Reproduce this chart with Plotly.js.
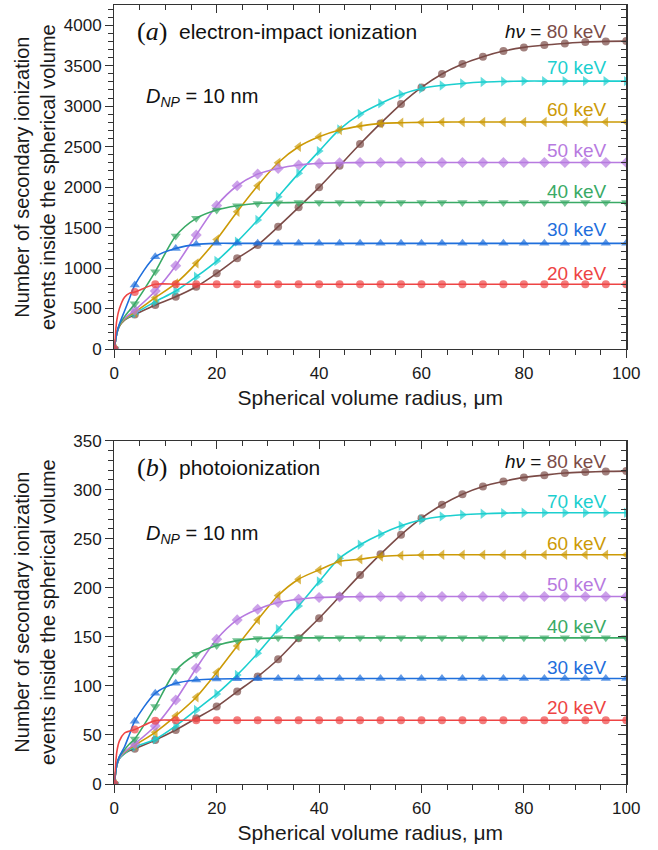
<!DOCTYPE html>
<html>
<head>
<meta charset="utf-8">
<script src="https://cdn.plot.ly/plotly-3.0.1.min.js"></script>
<style>html,body{margin:0;padding:0;background:#fff;}#chart{width:658px;height:850px;}</style>
</head>
<body>
<div id="chart"></div>
<script>
// Radius values (micrometres) at which the curves are sampled
const radius = [0, 0.5, 1, 2, 3, 4, 8, 12, 16, 20, 24, 28, 32, 36, 40, 44, 48, 52, 56, 60, 64, 68, 72, 76, 80, 84, 88, 92, 96, 100];

const energies = ['20 keV', '30 keV', '40 keV', '50 keV', '60 keV', '70 keV', '80 keV'];

// (a) electron-impact ionization
const elec20 = [0, 360, 500, 640, 690, 705, 800, 800, 800, 800, 800, 800, 800, 800, 800, 800, 800, 800, 800, 800, 800, 800, 800, 800, 800, 800, 800, 800, 800, 800];
const elec30 = [0, 200, 310, 470, 630, 790, 1140, 1243, 1293, 1305, 1305, 1305, 1305, 1305, 1305, 1305, 1305, 1305, 1305, 1305, 1305, 1305, 1305, 1305, 1305, 1305, 1305, 1305, 1305, 1305];
const elec40 = [0, 200, 300, 400, 480, 560, 955, 1396, 1614, 1717, 1770, 1799, 1807, 1810, 1810, 1810, 1810, 1810, 1810, 1810, 1810, 1810, 1810, 1810, 1810, 1810, 1810, 1810, 1810, 1810];
const elec50 = [0, 200, 300, 380, 430, 480, 716, 1029, 1408, 1774, 2017, 2161, 2231, 2273, 2293, 2301, 2303, 2305, 2305, 2305, 2305, 2305, 2305, 2305, 2305, 2305, 2305, 2305, 2305, 2305];
const elec60 = [0, 200, 290, 370, 415, 455, 634, 811, 1058, 1354, 1696, 2017, 2301, 2499, 2622, 2705, 2754, 2787, 2795, 2800, 2803, 2804, 2804, 2804, 2804, 2804, 2804, 2804, 2804, 2804];
const elec70 = [0, 200, 290, 365, 405, 440, 585, 716, 893, 1087, 1326, 1593, 1881, 2170, 2445, 2713, 2902, 3034, 3145, 3219, 3256, 3281, 3298, 3305, 3310, 3310, 3310, 3310, 3310, 3310];
const elec80 = [0, 190, 280, 355, 395, 425, 543, 646, 770, 935, 1120, 1285, 1511, 1750, 1997, 2264, 2532, 2787, 3026, 3232, 3397, 3520, 3611, 3681, 3726, 3755, 3775, 3792, 3800, 3804];

// (b) photoionization
const photo20 = [0, 33, 44, 52, 54, 55.5, 64.6, 65, 65, 65, 65, 65, 65, 65, 65, 65, 65, 65, 65, 65, 65, 65, 65, 65, 65, 65, 65, 65, 65, 65];
const photo30 = [0, 20, 28, 38, 51, 64, 92.5, 102.7, 106.1, 107.1, 107.3, 107.4, 107.5, 107.5, 107.5, 107.5, 107.5, 107.5, 107.5, 107.5, 107.5, 107.5, 107.5, 107.5, 107.5, 107.5, 107.5, 107.5, 107.5, 107.5];
const photo40 = [0, 20, 28, 35, 41, 46, 78.9, 115.6, 132.3, 141.1, 146.2, 148.3, 149, 149, 149, 149, 149, 149, 149, 149, 149, 149, 149, 149, 149, 149, 149, 149, 149, 149];
const photo50 = [0, 20, 27, 33, 37, 41, 59.2, 85.7, 118, 147.6, 167.3, 178.2, 185, 188.4, 190.1, 190.8, 191, 191.1, 191.1, 191.1, 191.1, 191.1, 191.1, 191.1, 191.1, 191.1, 191.1, 191.1, 191.1, 191.1];
const photo60 = [0, 20, 27, 32, 36, 39.5, 52.7, 69.4, 88.4, 113.6, 140.8, 167.3, 192.2, 208.8, 218.3, 226.8, 229.2, 232, 233, 233.5, 233.7, 233.7, 233.7, 233.7, 233.7, 233.7, 233.7, 233.7, 233.7, 233.7];
const photo70 = [0, 19, 26, 31, 35, 38, 45.6, 59.2, 75.5, 91.8, 111.2, 133.3, 157.8, 181.6, 206.4, 230.2, 243.9, 254.7, 263.2, 269.4, 272.8, 274.5, 275.5, 276.2, 276.5, 276.5, 276.5, 276.5, 276.5, 276.5];
const photo80 = [0, 19, 26, 31, 34, 36, 44.9, 55.1, 67, 78.9, 94.2, 109.5, 127.2, 148.6, 169, 191.1, 213.2, 234.3, 254, 271, 284.7, 295.5, 303.4, 308.5, 312.6, 314.9, 317, 318, 318.7, 319];

const elecSeries = [elec20, elec30, elec40, elec50, elec60, elec70, elec80];
const photoSeries = [photo20, photo30, photo40, photo50, photo60, photo70, photo80];

const colors = ['#ee4444', '#1f6fdc', '#3aaa66', '#b77ae0', '#cc9a06', '#1ccfcf', '#7b4b47'];
const symbols = ['circle', 'triangle-up', 'triangle-down', 'diamond', 'triangle-left', 'triangle-right', 'circle'];
const symbolSize = [8, 9, 9, 8.5, 9, 9, 8];

const traces = [];
function addSeries(series, xa, ya) {
  for (let i = series.length - 1; i >= 0; i--) {
    // marker only at the sampled radii (every 4 um)
    const sizes = radius.map(r => (r % 4 === 0 ? symbolSize[i] : 0));
    traces.push({
      x: radius, y: series[i], xaxis: xa, yaxis: ya,
      type: 'scatter', mode: 'lines+markers', name: energies[i], showlegend: false,
      line: {color: colors[i], width: 1.6, shape: 'spline', smoothing: 0.8},
      marker: {color: colors[i], symbol: symbols[i], size: sizes, line: {width: 0}},
      cliponaxis: true, hoverinfo: 'x+y+name'
    });
  }
}
addSeries(elecSeries, 'x', 'y');
addSeries(photoSeries, 'x2', 'y2');
// empty helpers so the mirrored tick axes are drawn
traces.push({x: [], y: [], xaxis: 'x3', yaxis: 'y', showlegend: false, hoverinfo: 'skip'});
traces.push({x: [], y: [], xaxis: 'x', yaxis: 'y3', showlegend: false, hoverinfo: 'skip'});
traces.push({x: [], y: [], xaxis: 'x4', yaxis: 'y2', showlegend: false, hoverinfo: 'skip'});
traces.push({x: [], y: [], xaxis: 'x2', yaxis: 'y4', showlegend: false, hoverinfo: 'skip'});

const W = 658, H = 850;
const xL = 114.3 / W, xR = 626.3 / W;
const domA = [1 - 349 / H, 1 - 5 / H];
const domB = [1 - 784 / H, 1 - 440.7 / H];

const FONT = 'Liberation Sans, Arial, Helvetica, sans-serif';
const axisCol = '#333';
const tickFont = {family: FONT, size: 17, color: '#1a1a1a'};
const xTitle = {text: 'Spherical volume radius, \u03bcm', font: {family: FONT, size: 21, color: '#1a1a1a'}, standoff: 8};

function xMain(anchor) {
  return {
    domain: [xL, xR], anchor: anchor, range: [0, 100], tick0: 0, dtick: 20,
    ticks: 'outside', ticklen: 8, tickwidth: 1, tickcolor: axisCol,
    showline: true, linecolor: axisCol, linewidth: 1.2, mirror: true,
    showgrid: false, zeroline: false, tickfont: tickFont, title: xTitle,
    minor: {dtick: 5, ticks: 'outside', ticklen: 5, tickwidth: 1, tickcolor: axisCol, showgrid: false},
    fixedrange: true
  };
}
function xTop(over, anchor) {
  return {
    overlaying: over, anchor: anchor, side: 'top', range: [0, 100], tick0: 0, dtick: 20,
    ticks: 'inside', ticklen: 8, tickwidth: 1, tickcolor: axisCol, showticklabels: false,
    showline: false, showgrid: false, zeroline: false,
    minor: {dtick: 5, ticks: 'inside', ticklen: 5, tickwidth: 1, tickcolor: axisCol, showgrid: false}
  };
}
function yMain(dom, anchor, top, major, minor) {
  return {
    domain: dom, anchor: anchor, range: [0, top], tick0: 0, dtick: major,
    ticks: 'outside', ticklen: 8, tickwidth: 1, tickcolor: axisCol,
    showline: true, linecolor: axisCol, linewidth: 1.2, mirror: true,
    showgrid: false, zeroline: false, tickfont: tickFont,
    minor: {dtick: minor, ticks: 'outside', ticklen: 5, tickwidth: 1, tickcolor: axisCol, showgrid: false},
    fixedrange: true
  };
}
function yRight(over, anchor, top, major, minor) {
  return {
    overlaying: over, anchor: anchor, side: 'right', range: [0, top], tick0: 0, dtick: major,
    ticks: 'inside', ticklen: 8, tickwidth: 1, tickcolor: axisCol, showticklabels: false,
    showline: false, showgrid: false, zeroline: false,
    minor: {dtick: minor, ticks: 'inside', ticklen: 5, tickwidth: 1, tickcolor: axisCol, showgrid: false}
  };
}

const annFont = {family: FONT, size: 19};
const labelX = 608 / W;
const aLabelY = [273, 230, 191, 150, 110, 68, 31];
const bLabelY = [707.3, 667.3, 626.7, 584, 543.3, 501.7, 461.7];

const annotations = [];
function addLabels(ys) {
  for (let i = 0; i < energies.length; i++) {
    let txt = energies[i];
    if (i === energies.length - 1) {
      txt = '<span style="color:#111"><i>h\u03bd</i> = </span>' + energies[i];
    }
    annotations.push({
      xref: 'paper', yref: 'paper', x: labelX, y: 1 - ys[i] / H,
      xanchor: 'right', yanchor: 'middle', showarrow: false,
      text: txt, font: Object.assign({}, annFont, {color: colors[i]})
    });
  }
}
addLabels(aLabelY);
addLabels(bLabelY);

function addPanelTitle(letter, name, cy) {
  annotations.push({
    xref: 'paper', yref: 'paper', x: 135 / W, y: 1 - cy / H, xanchor: 'left', yanchor: 'middle',
    showarrow: false, text: '(<i>' + letter + '</i>)',
    font: {family: 'Liberation Serif, DejaVu Serif, serif', size: 26, color: '#111'}
  });
  annotations.push({
    xref: 'paper', yref: 'paper', x: 177 / W, y: 1 - cy / H, xanchor: 'left', yanchor: 'middle',
    showarrow: false, text: name, font: {family: FONT, size: 21, color: '#111'}
  });
  annotations.push({
    xref: 'paper', yref: 'paper', x: 144 / W, y: 1 - (cy + 67) / H, xanchor: 'left', yanchor: 'middle',
    showarrow: false, text: '<i>D</i><sub><i>NP</i></sub> = 10 nm', font: {family: FONT, size: 20, color: '#111'}
  });
}
addPanelTitle('a', 'electron-impact ionization', 31);
addPanelTitle('b', 'photoionization', 467);

function addYTitle(cy) {
  annotations.push({
    xref: 'paper', yref: 'paper', x: 35 / W, y: 1 - cy / H, xanchor: 'center', yanchor: 'middle',
    showarrow: false, textangle: -90,
    text: 'Number of secondary ionization<br>events inside the spherical volume',
    font: {family: FONT, size: 20, color: '#1a1a1a'}
  });
}
addYTitle(177);
addYTitle(612);

const layout = {
  width: W, height: H,
  margin: {l: 0, r: 0, t: 0, b: 0},
  paper_bgcolor: '#ffffff', plot_bgcolor: '#ffffff',
  showlegend: false,
  xaxis: xMain('y'),
  yaxis: yMain(domA, 'x', 4250, 500, 100),
  xaxis2: xMain('y2'),
  yaxis2: yMain(domB, 'x2', 350, 50, 10),
  xaxis3: xTop('x', 'y'),
  yaxis3: yRight('y', 'x', 4250, 500, 100),
  xaxis4: xTop('x2', 'y2'),
  yaxis4: yRight('y2', 'x2', 350, 50, 10),
  annotations: annotations
};

Plotly.newPlot('chart', traces, layout, {staticPlot: true, displayModeBar: false});
</script>
</body>
</html>
